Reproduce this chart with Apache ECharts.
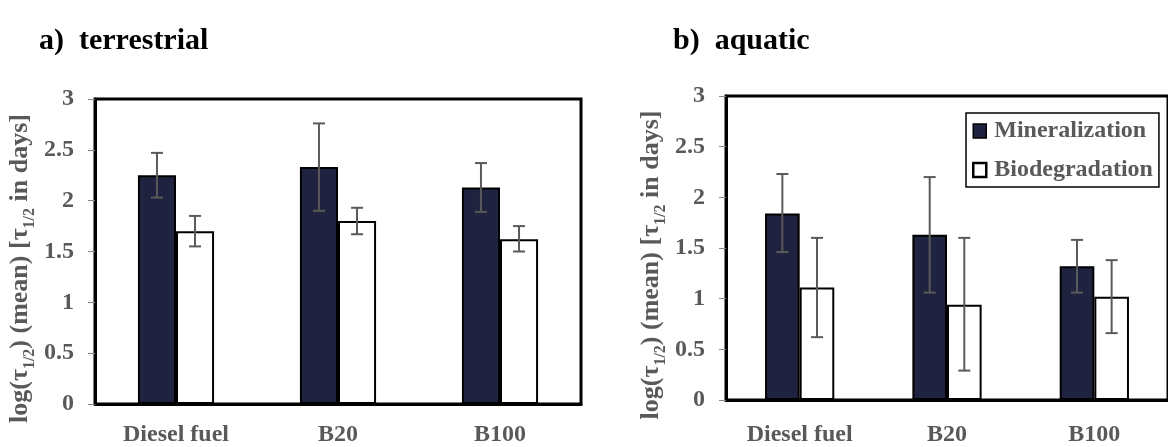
<!DOCTYPE html>
<html>
<head>
<meta charset="utf-8">
<script src="https://cdn.jsdelivr.net/npm/echarts@6/dist/echarts.min.js"></script>
<style>
html,body{margin:0;padding:0;background:#fff;}
#c{width:1168px;height:447px;}
</style>
</head>
<body>
<div id="c"></div>
<script>
const categories = ['Diesel fuel', 'B20', 'B100'];
const yTicks = [0, 0.5, 1, 1.5, 2, 2.5, 3];
// a) terrestrial
const terrMin = [2.25, 2.33, 2.13];
const terrMinLow = [2.03, 1.90, 1.89];
const terrMinHigh = [2.47, 2.76, 2.37];
const terrBio = [1.70, 1.80, 1.62];
const terrBioLow = [1.55, 1.67, 1.50];
const terrBioHigh = [1.85, 1.93, 1.75];
// b) aquatic
const aquaMin = [1.84, 1.63, 1.32];
const aquaMinLow = [1.46, 1.06, 1.06];
const aquaMinHigh = [2.23, 2.20, 1.58];
const aquaBio = [1.11, 0.94, 1.02];
const aquaBioLow = [0.62, 0.29, 0.66];
const aquaBioHigh = [1.60, 1.60, 1.38];

const FONT = '"Liberation Serif","Times New Roman",serif';
const GRAY = '#595959';
const NAVY = '#20233f';
const BARW = 0.235;

function errData(low, high) {
  return categories.map((c, i) => [i, low[i], high[i]]);
}
function errSeries(low, high, side, xi) {
  return {
    type: 'custom', xAxisIndex: xi, yAxisIndex: xi, z: 5,
    data: errData(low, high),
    renderItem: function (params, api) {
      const catW = api.size([1, 0])[0];
      const off = side * catW * BARW / 2;
      const lo = api.coord([api.value(0), api.value(1)]);
      const hi = api.coord([api.value(0), api.value(2)]);
      const x = lo[0] + off;
      const cap = 6;
      const st = { stroke: '#5a5a5a', lineWidth: 2 };
      return {
        type: 'group',
        children: [
          { type: 'line', shape: { x1: x, y1: lo[1], x2: x, y2: hi[1] }, style: st },
          { type: 'line', shape: { x1: x - cap, y1: lo[1], x2: x + cap, y2: lo[1] }, style: st },
          { type: 'line', shape: { x1: x - cap, y1: hi[1], x2: x + cap, y2: hi[1] }, style: st }
        ]
      };
    }
  };
}
function yAxis(gi) {
  return {
    type: 'value', gridIndex: gi, min: 0, max: 3, interval: 0.5,
    splitLine: { show: false },
    axisLine: { show: true, lineStyle: { color: '#000', width: 3 } },
    axisTick: { show: true, length: 7, lineStyle: { color: '#888', width: 1 } },
    axisLabel: {
      color: GRAY, fontFamily: FONT, fontWeight: 'bold', fontSize: 24, margin: 21,
      formatter: v => String(v)
    },
    name: '{a|log(τ}{s|1/2}{a|) (mean) [τ}{s|1/2}{a| in days]}',
    nameLocation: 'middle', nameRotate: 90, nameGap: 62,
    nameTextStyle: {
      color: GRAY, fontFamily: FONT, fontWeight: 'bold',
      padding: [0, 34, 0, 0],
      rich: {
        a: { fontSize: 26, fontFamily: FONT, fontWeight: 'bold', color: GRAY, lineHeight: 30, verticalAlign: 'bottom' },
        s: { fontSize: 16, fontFamily: FONT, fontWeight: 'bold', color: GRAY, lineHeight: 30, verticalAlign: 'bottom', padding: [0, 0, -5, 0] }
      }
    }
  };
}
function xAxis(gi, margin) {
  return {
    type: 'category', gridIndex: gi, data: categories,
    axisLine: { show: true, lineStyle: { color: '#000', width: 3 } },
    axisTick: { show: false },
    axisLabel: { color: GRAY, fontFamily: FONT, fontWeight: 'bold', fontSize: 24, margin: margin }
  };
}
function barSeries(name, data, xi, fill) {
  return {
    name: name, type: 'bar', xAxisIndex: xi, yAxisIndex: xi, data: data,
    barWidth: (BARW * 100) + '%', barGap: '0%',
    itemStyle: { color: fill, borderColor: '#000', borderWidth: 2 },
    emphasis: { disabled: true }
  };
}

const chart = echarts.init(document.getElementById('c'), null, { renderer: 'canvas' });
chart.setOption({
  animation: false,
  backgroundColor: '#fff',
  title: [
    { text: 'a)  terrestrial', left: 34, top: 21, textStyle: { fontFamily: FONT, fontWeight: 'bold', fontSize: 30, color: '#000' } },
    { text: 'b)  aquatic', left: 668, top: 21, textStyle: { fontFamily: FONT, fontWeight: 'bold', fontSize: 30, color: '#000' } }
  ],
  grid: [
    { left: 95, top: 99, width: 486, height: 309, show: true, borderColor: '#000', borderWidth: 3, backgroundColor: 'transparent' },
    { left: 726, top: 96, width: 471, height: 307, show: true, borderColor: '#000', borderWidth: 3, backgroundColor: 'transparent' }
  ],
  legend: {
    data: [
      { name: 'Mineralization', itemStyle: { color: NAVY, borderColor: '#000', borderWidth: 1.5 } },
      { name: 'Biodegradation', itemStyle: { color: '#fff', borderColor: '#000', borderWidth: 2.5 } }
    ],
    orient: 'vertical', left: 966, top: 113,
    padding: [5, 4, 4, 6], itemGap: 13,
    borderColor: '#000', borderWidth: 1.5, backgroundColor: '#fff',
    icon: 'rect', itemWidth: 13, itemHeight: 14,
    textStyle: { fontFamily: FONT, fontWeight: 'bold', fontSize: 24, lineHeight: 26, color: GRAY, padding: [0, 2, 0, 3] },
    selectedMode: false
  },
  xAxis: [xAxis(0, 19), xAxis(1, 23)],
  yAxis: [yAxis(0), yAxis(1)],
  series: [
    barSeries('Mineralization', terrMin, 0, NAVY),
    barSeries('Biodegradation', terrBio, 0, '#fff'),
    errSeries(terrMinLow, terrMinHigh, -1, 0),
    errSeries(terrBioLow, terrBioHigh, 1, 0),
    barSeries('Mineralization', aquaMin, 1, NAVY),
    barSeries('Biodegradation', aquaBio, 1, '#fff'),
    errSeries(aquaMinLow, aquaMinHigh, -1, 1),
    errSeries(aquaBioLow, aquaBioHigh, 1, 1)
  ]
});
</script>
</body>
</html>
